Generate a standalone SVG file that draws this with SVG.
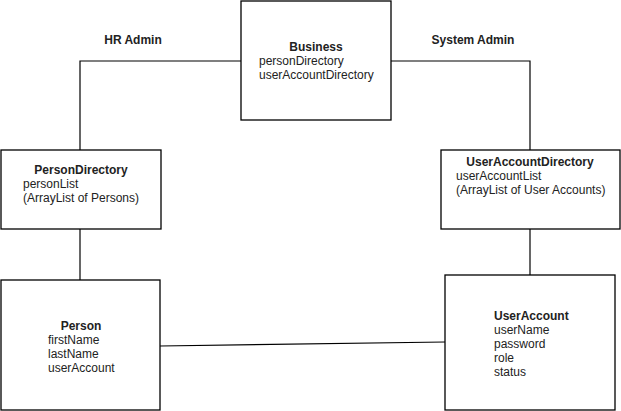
<svg xmlns="http://www.w3.org/2000/svg" width="621" height="411" viewBox="0 0 621 411">
<style>
.box{fill:#fff;stroke:#000;stroke-width:1.3}
.ln{fill:none;stroke:#000;stroke-width:1.2}
text{font-family:"Liberation Sans",Arial,sans-serif;font-size:12px;fill:#222}
.b{font-weight:bold}
.c{text-anchor:middle}
</style>
<rect width="621" height="411" fill="#fff"/>
<g id="connectors">
<polyline class="ln" points="241,61 80,61 80,150"/>
<polyline class="ln" points="391,61 530,61 530,150"/>
<line class="ln" x1="80" y1="229" x2="80" y2="280"/>
<line class="ln" x1="530" y1="229" x2="530" y2="275"/>
<line class="ln" x1="160" y1="346" x2="445" y2="342"/>
</g>
<g id="labels">
<text class="b c" x="133" y="44">HR Admin</text>
<text class="b c" x="473" y="44">System Admin</text>
</g>
<g id="business">
<rect class="box" x="241" y="1" width="150" height="119"/>
<text class="b c" x="316" y="51">Business</text>
<text x="259" y="65">personDirectory</text>
<text x="259" y="79">userAccountDirectory</text>
</g>
<g id="personDirectory">
<rect class="box" x="1" y="150" width="160" height="79"/>
<text class="b c" x="81" y="174">PersonDirectory</text>
<text x="23" y="188">personList</text>
<text x="23" y="202">(ArrayList of Persons)</text>
</g>
<g id="userAccountDirectory">
<rect class="box" x="441" y="150" width="179" height="79"/>
<text class="b c" x="530" y="166">UserAccountDirectory</text>
<text x="456" y="180">userAccountList</text>
<text x="456" y="194">(ArrayList of User Accounts)</text>
</g>
<g id="person">
<rect class="box" x="1" y="280" width="159" height="130"/>
<text class="b c" x="81" y="330">Person</text>
<text x="48" y="344">firstName</text>
<text x="48" y="358">lastName</text>
<text x="48" y="372">userAccount</text>
</g>
<g id="userAccount">
<rect class="box" x="445" y="275" width="170" height="135"/>
<text class="b" x="494" y="320">UserAccount</text>
<text x="494" y="334">userName</text>
<text x="494" y="348">password</text>
<text x="494" y="362">role</text>
<text x="494" y="376">status</text>
</g>
</svg>
